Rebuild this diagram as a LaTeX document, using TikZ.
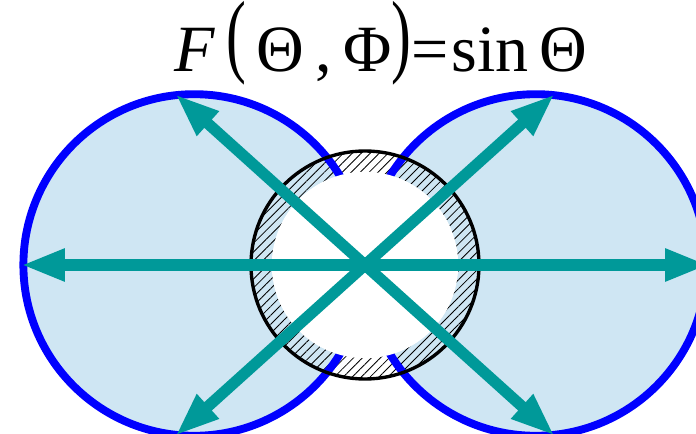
\documentclass[tikz,border=0pt]{standalone}
\usepackage{fontspec}
\setmainfont{Liberation Serif}
\usetikzlibrary{arrows.meta,patterns.meta}
\definecolor{lobefill}{RGB}{207,230,243}
\definecolor{lobeedge}{RGB}{0,0,255}
\definecolor{rayteal}{RGB}{0,153,153}
\newcommand{\tallparen}[1]{\raisebox{0.1em}{\scalebox{0.9}[1.4]{#1}}}

\begin{document}
\begin{tikzpicture}[
    lobe/.style={draw=lobeedge, line width=5.6pt},
    lobebg/.style={fill=lobefill},
    ring/.style={draw=black, line width=2.4pt},
    hatch/.style={pattern={Lines[angle=45,distance=4.5pt,line width=0.6pt]}, pattern color=black},
    ray/.style={draw=rayteal, line width=8pt, -{Triangle[length=1.1cm,width=0.75cm]}},
    title/.style={font=\fontsize{47}{47}\selectfont, anchor=base}
]

\useasboundingbox (-9.125,-4.225) rectangle (8.275,6.625);
\clip (-9.125,-4.225) rectangle (8.275,6.625);

\coordinate (o) at (0,0);
\coordinate (leftc) at (-4.27,0);
\coordinate (rightc) at (4.27,0);

% lobes and probe
\fill[lobebg] (leftc) circle (4.27);
\fill[lobebg] (rightc) circle (4.27);
\path[hatch] (o) circle (2.85);
\draw[lobe] (leftc) circle (4.27);
\draw[lobe] (rightc) circle (4.27);
\draw[ring] (o) circle (2.85);
\fill[white] (o) circle (2.33);

% ray end points
\coordinate (west) at (180:8.6);
\coordinate (east) at (0:8.6);
\coordinate (nw) at (138:6.38);
\coordinate (ne) at (42:6.38);
\coordinate (sw) at (222:6.38);
\coordinate (se) at (318:6.38);

\draw[ray] (o) -- (west);
\draw[ray] (o) -- (east);
\draw[ray] (o) -- (nw);
\draw[ray] (o) -- (ne);
\draw[ray] (o) -- (sw);
\draw[ray] (o) -- (se);

\node[title] (formula) at (0.4,4.825) {\textit{F}\,\tallparen{(}\,Θ\,,\,Φ\tallparen{)}=\kern0.05em sin\,Θ};

\end{tikzpicture}
\end{document}
